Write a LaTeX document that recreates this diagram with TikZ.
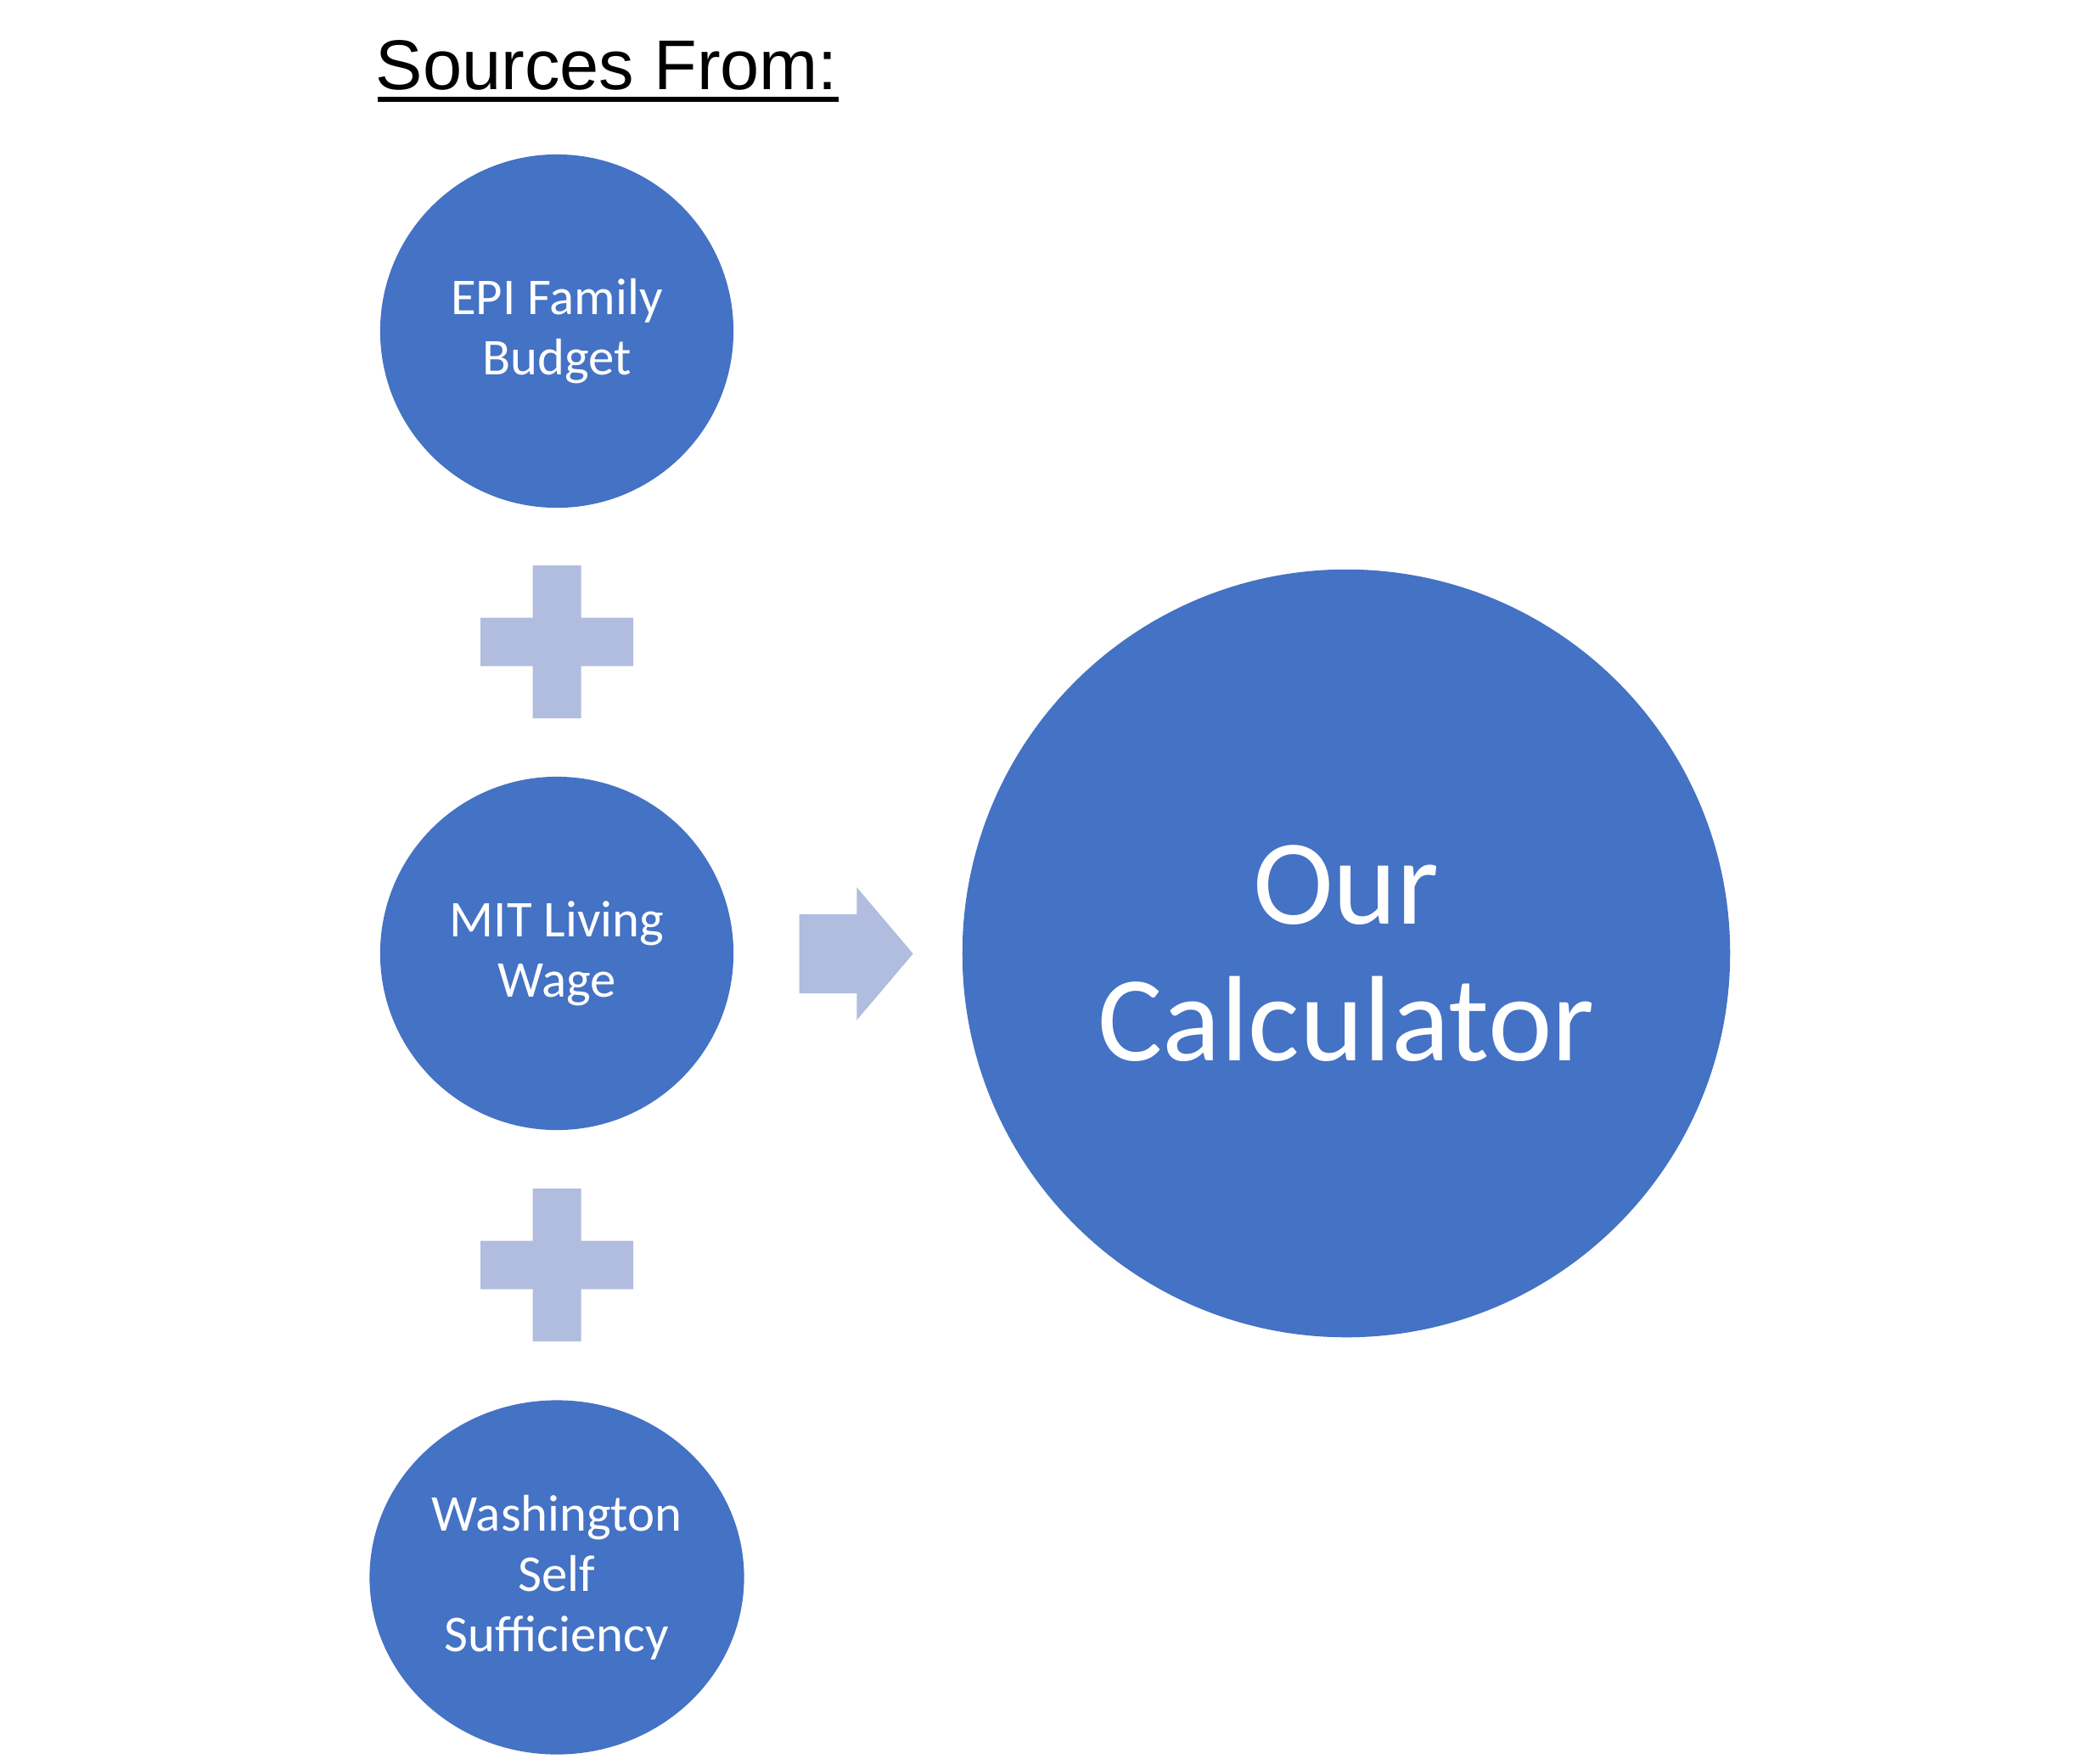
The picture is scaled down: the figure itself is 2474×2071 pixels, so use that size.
\documentclass[tikz,border=0pt]{standalone}
\usepackage{fontspec}
\setmainfont{Carlito}
\newfontfamily\titlefont{Liberation Sans}
\usetikzlibrary{shapes.geometric}
\definecolor{cblue}{HTML}{4472C4}
\definecolor{clight}{HTML}{B0BDDE}
\tikzset{
  src/.style={circle, fill=cblue, text=white, inner sep=0pt, minimum size=4.16cm,
    align=center, font=\fontsize{17.3}{20.2}\selectfont},
  plussign/.pic={\fill[clight] (-28.5,-90) -- (28.5,-90) -- (28.5,-28.5) -- (90,-28.5) -- (90,28.5) -- (28.5,28.5) -- (28.5,90) -- (-28.5,90) -- (-28.5,28.5) -- (-90,28.5) -- (-90,-28.5) -- (-28.5,-28.5) -- cycle;},
  bigarrow/.pic={\fill[clight] (-67,-46.6) -- (0.6,-46.6) -- (0.6,-78.3) -- (67,0) -- (0.6,78.3) -- (0.6,46.6) -- (-67,46.6) -- cycle;}
}
\begin{document}
\begin{tikzpicture}[x=0.01cm,y=-0.01cm]
\useasboundingbox (0,0) rectangle (2474,2071);
\fill[white] (0,0) rectangle (2474,2071);
% title
\node[anchor=base, inner sep=0pt, font=\titlefont\fontsize{23.6}{28}\selectfont] (title) at (715,105) {Sources From:};
\draw[line width=0.06cm] ([xshift=0.03cm,yshift=-0.12cm]title.base west) -- ([yshift=-0.12cm]title.base east);
% source circles
\node[src] (epi) at (656,390) {EPI Family\\Budget};
\node[src] (mit) at (656,1123) {MIT Living\\Wage};
\node[src, ellipse, minimum width=4.41cm, minimum height=4.17cm] (wss) at (656,1858) {Washington\\Self\\Sufficiency};
% plus signs
\coordinate (p1) at (656,756);
\coordinate (p2) at (656,1490);
\pic at (p1) {plussign};
\pic at (p2) {plussign};
% arrow
\coordinate (arr) at (1008.7,1123.4);
\pic at (arr) {bigarrow};
% result
\node[circle, fill=cblue, text=white, inner sep=0pt, minimum size=9.04cm, align=center,
  font=\fontsize{40.7}{45.8}\selectfont] (calc) at (1586,1123) {Our\\Calculator};
\end{tikzpicture}
\end{document}
